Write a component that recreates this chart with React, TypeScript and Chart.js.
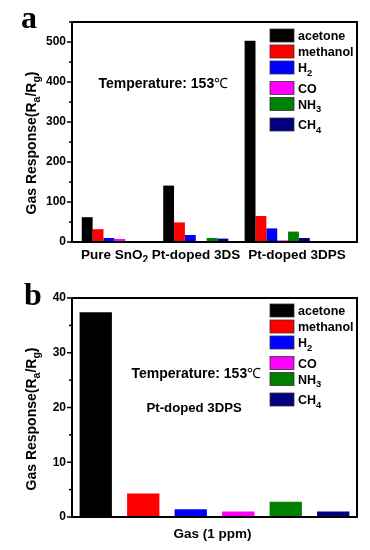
import React, { useEffect, useRef } from "react";
import { Chart, registerables } from "chart.js";
Chart.register(...registerables);

const FONT = '"Liberation Sans", Arial, Helvetica, sans-serif';
const SERIF = '"Liberation Serif", "Times New Roman", serif';

// gas names ("_" marks a one-character subscript)
const gasNames = ["acetone", "methanol", "H_2", "CO", "NH_3", "CH_4"];
const gasColors = ["#000000", "#ff0000", "#0000ff", "#ff00ff", "#008000", "#000080"];

// panel a
const samplesA = ["Pure SnO_2", "Pt-doped 3DS", "Pt-doped 3DPS"];
const acetoneA = [62, 141, 503];
const methanolA = [32, 49, 65];
const h2A = [10, 17.5, 34];
const coA = [7.5, 2, 4];
const nh3A = [0, 10, 26];
const ch4A = [2.5, 8.5, 10];
const yTicksA = [0, 100, 200, 300, 400, 500];
const yMaxA = 550;

// panel b
const responseB = [37.4, 4.3, 1.4, 1.0, 2.8, 1.0];
const yTicksB = [0, 10, 20, 30, 40];
const yMaxB = 40;

const yTitle = "Gas Response(R_a/R_g)";
const tempText = "Temperature: 153℃";
const sampleB = "Pt-doped 3DPS";
const xTitleB = "Gas (1 ppm)";

type Seg = { t: string; sub: boolean; light?: boolean };
function parseRich(s: string): Seg[] {
  const out: Seg[] = [];
  let buf = "";
  const flush = () => { if (buf) { out.push({ t: buf, sub: false }); buf = ""; } };
  for (let i = 0; i < s.length; i++) {
    if (s[i] === "_" && i + 1 < s.length) {
      flush();
      out.push({ t: s[i + 1], sub: true });
      i++;
    } else if (s[i] === "℃") {
      flush();
      out.push({ t: s[i], sub: false, light: true });
    } else buf += s[i];
  }
  flush();
  return out;
}

function segFont(sg: Seg, size: number) {
  const sz = sg.sub ? size * 0.75 : size;
  return `${sg.light ? "normal" : "bold"} ${sz}px ${FONT}`;
}

function drawRich(ctx: CanvasRenderingContext2D, s: string, x: number, y: number, size: number, align: "left" | "center") {
  const segs = parseRich(s);
  ctx.textBaseline = "alphabetic";
  ctx.textAlign = "left";
  let w = 0;
  for (const sg of segs) {
    ctx.font = segFont(sg, size);
    w += ctx.measureText(sg.t).width;
  }
  let cx = align === "center" ? x - w / 2 : x;
  for (const sg of segs) {
    ctx.font = segFont(sg, size);
    ctx.fillText(sg.t, cx, sg.sub ? y + size * 0.3 : y);
    cx += ctx.measureText(sg.t).width;
  }
}

type OverlayOpts = {
  letter: string;
  letterX: number;
  letterY: number;
  titleCenterY: number;
  yTicks: number[];
  legendY: number;
  notes: { text: string; x: number; y: number; size: number }[];
  groupLabelX?: number[];
  xTitle?: { text: string; y: number; size: number };
};

function overlay(o: OverlayOpts) {
  return {
    id: "overlay",
    afterDraw(chart: any) {
      const ctx: CanvasRenderingContext2D = chart.ctx;
      const { left, right, top, bottom } = chart.chartArea;
      const ys = chart.scales.y;
      ctx.save();
      ctx.fillStyle = "#000";
      ctx.strokeStyle = "#000";
      // frame
      ctx.lineWidth = 2;
      ctx.strokeRect(left, top, right - left, bottom - top);
      // y tick marks (major + minor)
      ctx.lineWidth = 1.5;
      const step = o.yTicks[1] - o.yTicks[0];
      for (let v = 0; v <= ys.max + 1e-9; v += step / 2) {
        const py = ys.getPixelForValue(v);
        const major = Math.abs(v / step - Math.round(v / step)) < 1e-6;
        const len = major ? 5 : 3;
        ctx.beginPath();
        ctx.moveTo(left - len, py);
        ctx.lineTo(left, py);
        ctx.stroke();
      }
      // panel letter
      ctx.font = `bold 32px ${SERIF}`;
      ctx.textAlign = "left";
      ctx.textBaseline = "alphabetic";
      ctx.fillText(o.letter, o.letterX, o.letterY);
      // y title
      ctx.save();
      ctx.translate(36, o.titleCenterY);
      ctx.rotate(-Math.PI / 2);
      drawRich(ctx, yTitle, 0, 0, 14, "center");
      ctx.restore();
      // notes
      for (const n of o.notes) drawRich(ctx, n.text, n.x, n.y, n.size, "left");
      // group labels
      if (o.groupLabelX) {
        samplesA.forEach((g, i) => {
          drawRich(ctx, g, o.groupLabelX![i], bottom + 16.5, 13.5, "center");
        });
      }
      if (o.xTitle) {
        drawRich(ctx, o.xTitle.text, (left + right) / 2 - 2, o.xTitle.y, o.xTitle.size, "center");
      }
      // legend
      let cy = o.legendY;
      gasNames.forEach((name, i) => {
        ctx.fillStyle = gasColors[i];
        ctx.fillRect(270, cy - 6.5, 24, 13);
        ctx.lineWidth = 0.8;
        ctx.strokeStyle = "#333";
        ctx.strokeRect(270, cy - 6.5, 24, 13);
        ctx.fillStyle = "#000";
        drawRich(ctx, name, 298, cy + 4.5, 12.5, "left");
        cy += 16 + (name.includes("_") ? 4.5 : 0);
      });
      ctx.restore();
    },
  };
}

const tickFont = { family: FONT, size: 12, weight: "bold" as const };

export default function App() {
  const refA = useRef<HTMLCanvasElement>(null);
  const refB = useRef<HTMLCanvasElement>(null);

  useEffect(() => {
    const seriesA = [acetoneA, methanolA, h2A, coA, nh3A, ch4A];
    const chartA = new Chart(refA.current!, {
      type: "bar",
      data: {
        datasets: seriesA.map((vals, k) => ({
          label: gasNames[k],
          data: vals.map((v, i) => ({ x: i + 1, y: v })),
          backgroundColor: gasColors[k],
          borderWidth: 0,
          categoryPercentage: 0.8,
          barPercentage: 1.0,
        })),
      },
      options: {
        responsive: false,
        animation: false,
        layout: { padding: { top: 22, right: 13, left: 0, bottom: 0 } },
        plugins: { legend: { display: false }, tooltip: { enabled: false }, title: { display: false } },
        scales: {
          x: {
            type: "linear",
            min: 0.48,
            max: 3.98,
            offset: false,
            afterBuildTicks: (s: any) => { s.ticks = samplesA.map((_, i) => ({ value: i + 1 })); },
            afterFit: (s: any) => { s.height = 20; },
            ticks: { display: false },
            grid: { display: false, drawTicks: false },
            border: { display: false },
          },
          y: {
            min: 0,
            max: yMaxA,
            afterBuildTicks: (s: any) => { s.ticks = yTicksA.map((v) => ({ value: v })); },
            afterFit: (s: any) => { s.width = 72; },
            ticks: { font: tickFont, color: "#000", padding: 6 },
            grid: { display: false, drawTicks: false },
            border: { display: false },
          },
        },
      } as any,
      plugins: [
        overlay({
          letter: "a",
          letterX: 21,
          letterY: 28,
          titleCenterY: 143,
          yTicks: yTicksA,
          legendY: 35.5,
          notes: [{ text: tempText, x: 98.5, y: 88, size: 14 }],
          groupLabelX: [114.5, 196, 297],
        }),
      ],
    });

    const chartB = new Chart(refB.current!, {
      type: "bar",
      data: {
        labels: gasNames,
        datasets: [
          {
            label: sampleB,
            data: responseB,
            backgroundColor: gasColors,
            borderWidth: 0,
            categoryPercentage: 1,
            barPercentage: 0.68,
          },
        ],
      },
      options: {
        responsive: false,
        animation: false,
        layout: { padding: { top: 36, right: 13, left: 0, bottom: 0 } },
        plugins: { legend: { display: false }, tooltip: { enabled: false }, title: { display: false } },
        scales: {
          x: {
            type: "category",
            offset: true,
            afterFit: (s: any) => { s.height = 33; },
            ticks: { display: false },
            grid: { display: false, drawTicks: false },
            border: { display: false },
          },
          y: {
            min: 0,
            max: yMaxB,
            afterBuildTicks: (s: any) => { s.ticks = yTicksB.map((v) => ({ value: v })); },
            afterFit: (s: any) => { s.width = 72; },
            ticks: { font: tickFont, color: "#000", padding: 6 },
            grid: { display: false, drawTicks: false },
            border: { display: false },
          },
        },
      } as any,
      plugins: [
        overlay({
          letter: "b",
          letterX: 24,
          letterY: 43,
          titleCenterY: 157,
          yTicks: yTicksB,
          legendY: 48.5,
          notes: [
            { text: tempText, x: 131.5, y: 116.3, size: 14 },
            { text: sampleB, x: 146.5, y: 149.7, size: 13.2 },
          ],
          xTitle: { text: xTitleB, y: 275.5, size: 13.5 },
        }),
      ],
    });

    return () => {
      chartA.destroy();
      chartB.destroy();
    };
  }, []);

  return (
    <div style={{ position: "absolute", left: 0, top: 0, width: 370, height: 550, background: "#fff" }}>
      <canvas ref={refA} width={370} height={262} style={{ display: "block", width: 370, height: 262 }} />
      <canvas ref={refB} width={370} height={288} style={{ display: "block", width: 370, height: 288 }} />
    </div>
  );
}
